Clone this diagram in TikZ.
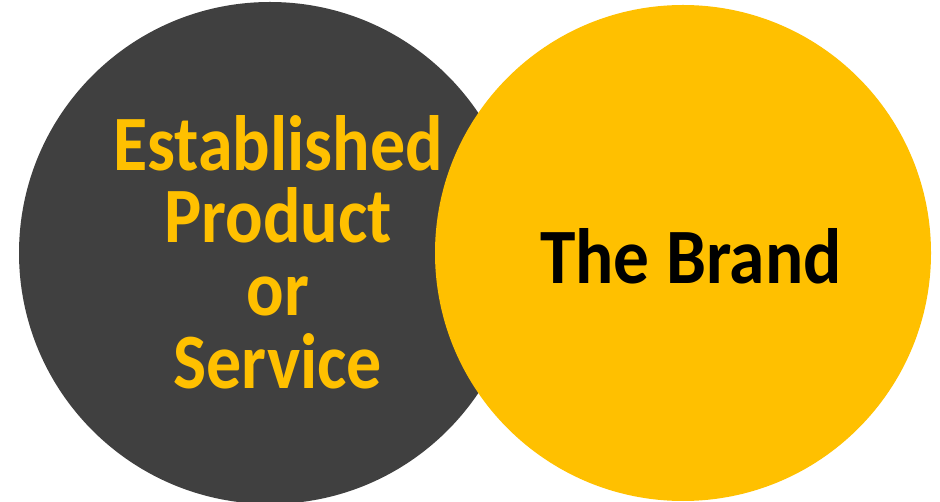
\documentclass[tikz,border=0pt]{standalone}
\usepackage{fontspec}
\setmainfont{Carlito}
\usepackage{xcolor}
\usetikzlibrary{positioning}
\definecolor{cDark}{HTML}{404040}
\definecolor{cGold}{HTML}{FFC000}
\tikzset{
  sdisc/.style={circle,inner sep=0pt,draw=none},
  slbl/.style={align=center,inner sep=0pt,yscale=1.12,transform shape,
               font=\bfseries\fontsize{70}{65}\selectfont},
}
\begin{document}
\begin{tikzpicture}[x=1pt,y=-1pt]
  \useasboundingbox (0,0) rectangle (940,502);
  \node[sdisc,fill=cDark,minimum size=502pt] (prod) at (270,253) {};
  \node[sdisc,fill=cGold,minimum size=496pt] (brand) at (683,253) {};
  \node[slbl,text=cGold] (prodtxt) at ([xshift=8pt,yshift=1pt]prod.center) {Established\\Product\\or\\Service};
  \node[slbl,text=black,xscale=1.02] (brandtxt) at ([xshift=8pt,yshift=-3pt]brand.center) {The Brand};
\end{tikzpicture}
\end{document}
